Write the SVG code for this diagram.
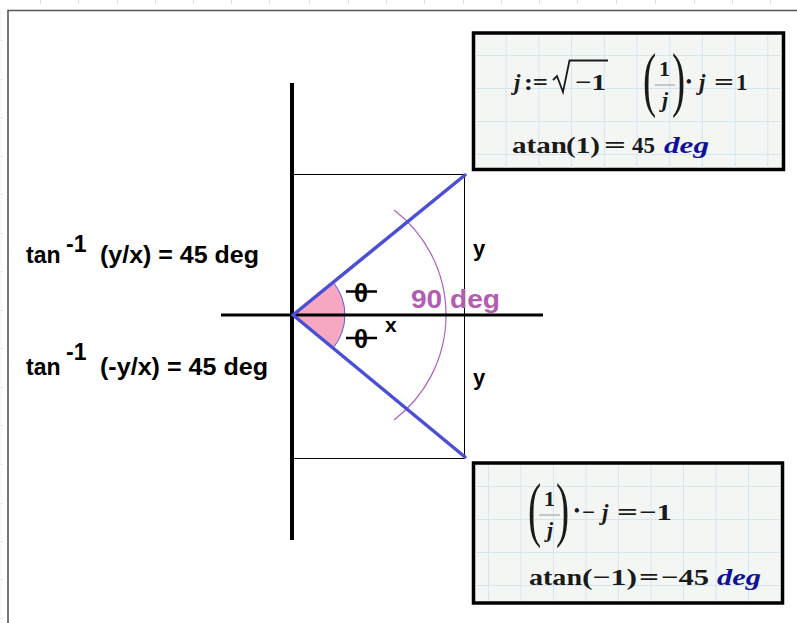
<svg xmlns="http://www.w3.org/2000/svg" width="797" height="623" viewBox="0 0 797 623">
<defs>
<style>
.lbl{font-family:"Liberation Sans",Arial,sans-serif;font-weight:bold;fill:#000}
.m{font-family:"Liberation Serif","Times New Roman",serif;font-weight:bold;font-size:23px;fill:#1a1a1a}
.mi{font-style:italic}
.fr{font-size:22px}
.dot{font-size:16px}
.par{font-family:"Liberation Serif","Times New Roman",serif;font-weight:normal;font-size:66px;fill:#1a1a1a}
.deg{font-family:"Liberation Serif","Times New Roman",serif;font-weight:bold;font-style:italic;font-size:23px;fill:#10109a}
.box{fill:#f3f6f3;stroke:#000;stroke-width:3.5}
.grid{stroke:#d4e6f4;stroke-width:1}
.tick{stroke:#cfe2f5;stroke-width:1}
.axis{stroke:#000;stroke-width:4}
.blue{stroke:#4a4fd6;stroke-width:3.5;fill:none;stroke-linecap:round}
.thin{stroke:#000;stroke-width:1;fill:none}
.bar{stroke:#999;stroke-width:1}
</style>
<pattern id="g1" x="473" y="22" width="32.7" height="33" patternUnits="userSpaceOnUse">
<path d="M0.5,0V33M0,0.5H32.7" class="grid" fill="none"/>
</pattern>
<pattern id="g2" x="488" y="486" width="32.5" height="33" patternUnits="userSpaceOnUse">
<path d="M0.5,0V33M0,0.5H32.5" class="grid" fill="none"/>
</pattern>
</defs>
<rect width="797" height="623" fill="#ffffff"/>
<g id="ruler">
<path class="tick" d="M40.5,0V4M78.5,0V4M117.5,0V4M155.5,0V4M193.5,0V4M231.5,0V4M269.5,0V4M309.5,0V4M348.5,0V4M386.5,0V4M424.5,0V4M463.5,0V4M501.5,0V4M539.5,0V4M577.5,0V4M616.5,0V4M655.5,0V4M694.5,0V4M732.5,0V4M770.5,0V4"/>
<path class="tick" d="M0,40.5H3M0,79.5H3M0,117.5H3M0,156.5H3M0,194.5H3M0,233.5H3M0,271.5H3M0,310.5H3M0,348.5H3M0,387.5H3M0,425.5H3M0,464.5H3M0,503.5H3M0,541.5H3M0,579.5H3M0,618.5H3"/>
<path d="M1,10V623" stroke="#eef4fa" stroke-width="1"/>
</g>
<g id="frame">
<path d="M8,623V10.5H797" fill="none" stroke="#555" stroke-width="1.6"/>
</g>
<g id="construction">
<rect class="thin" x="292.5" y="174.5" width="172" height="284"/>
<path d="M293,315 L333.2,282.1 A52,52 0 0 1 333.2,347.9 Z" fill="#f6a8c2" stroke="#5a5ad8" stroke-width="1"/>
<path d="M394,210 A132,132 0 0 1 394,420" fill="none" stroke="#b060c0" stroke-width="1.2"/>
</g>
<g id="axes">
<line class="axis" x1="292" y1="83" x2="292" y2="540"/>
<line x1="221" y1="315" x2="543" y2="315" stroke="#000" stroke-width="3"/>
</g>
<g id="connectors">
<line class="blue" x1="293" y1="315" x2="465" y2="175"/>
<line class="blue" x1="293" y1="315" x2="465" y2="457"/>
</g>
<g id="labels">
<text class="lbl" x="26" y="263" font-size="23">tan</text>
<text class="lbl" x="66" y="252" font-size="23">-1</text>
<text class="lbl" x="100" y="263" font-size="23" textLength="159" lengthAdjust="spacingAndGlyphs">(y/x) = 45 deg</text>
<text class="lbl" x="26" y="375" font-size="23">tan</text>
<text class="lbl" x="66" y="360" font-size="23">-1</text>
<text class="lbl" x="100" y="375" font-size="23" textLength="168" lengthAdjust="spacingAndGlyphs">(-y/x) = 45 deg</text>
<text class="lbl" x="473" y="256" font-size="22">y</text>
<text class="lbl" x="473" y="385" font-size="22">y</text>
<text class="lbl" x="385" y="332" font-size="21">x</text>
<text class="lbl" x="354" y="302" font-size="26">θ</text>
<line x1="346" y1="291.5" x2="377" y2="291.5" stroke="#000" stroke-width="2.5"/>
<text class="lbl" x="354" y="348" font-size="26">θ</text>
<line x1="346" y1="338" x2="377" y2="338" stroke="#000" stroke-width="2.5"/>
<text x="411" y="308" font-family="'Liberation Sans',Arial,sans-serif" font-weight="bold" font-size="25" fill="#b45cb4" textLength="89" lengthAdjust="spacingAndGlyphs">90 deg</text>
</g>
<g id="box1">
<rect class="box" x="473.5" y="33" width="310" height="136.5"/>
<rect x="475.5" y="35" width="306" height="132.5" fill="url(#g1)"/>
<text class="m mi" x="514" y="90">j</text>
<text class="m" x="524" y="90" textLength="24" lengthAdjust="spacingAndGlyphs">:=</text>
<path d="M553,80 L557,76 L563,92 L569.5,60.5 H608" fill="none" stroke="#1a1a1a" stroke-width="1.8"/>
<text class="m" x="575" y="90" textLength="31" lengthAdjust="spacingAndGlyphs">−1</text>
<text class="par" transform="translate(643,103) scale(0.6,1.08)">(</text>
<text class="m fr" x="659" y="76">1</text>
<line class="bar" x1="655" y1="85" x2="675" y2="85"/>
<text class="m mi fr" x="662" y="107">j</text>
<text class="par" transform="translate(672,103) scale(0.6,1.08)">)</text>
<text class="m dot" x="686" y="87">•</text>
<text class="m mi" x="699" y="90">j</text>
<text class="m" x="714" y="90" textLength="20" lengthAdjust="spacingAndGlyphs">=</text>
<text class="m" x="736" y="90">1</text>
<text class="m" x="512" y="153" textLength="55" lengthAdjust="spacingAndGlyphs">atan</text>
<text class="m" x="566" y="153" textLength="34" lengthAdjust="spacingAndGlyphs">(1)</text>
<text class="m" x="604" y="153" textLength="22" lengthAdjust="spacingAndGlyphs">=</text>
<text class="m" x="632" y="153" textLength="23" lengthAdjust="spacingAndGlyphs">45</text>
<text class="deg" x="664" y="153" textLength="45" lengthAdjust="spacingAndGlyphs">deg</text>
</g>
<g id="box2">
<rect class="box" x="473.5" y="463" width="309" height="140"/>
<rect x="475.5" y="465" width="305" height="136" fill="url(#g2)"/>
<text class="par" transform="translate(528,533) scale(0.6,1.08)">(</text>
<text class="m fr" x="544" y="506">1</text>
<line class="bar" x1="539" y1="515" x2="560" y2="515"/>
<text class="m mi fr" x="547" y="537">j</text>
<text class="par" transform="translate(556,533) scale(0.6,1.08)">)</text>
<text class="m dot" x="574" y="516">•</text>
<text class="m" x="582" y="520">−</text>
<text class="m mi" x="602" y="520">j</text>
<text class="m" x="617" y="520" textLength="21" lengthAdjust="spacingAndGlyphs">=</text>
<text class="m" x="639" y="520" textLength="33" lengthAdjust="spacingAndGlyphs">−1</text>
<text class="m" x="529" y="585" textLength="53" lengthAdjust="spacingAndGlyphs">atan</text>
<text class="m" x="582" y="585" textLength="55" lengthAdjust="spacingAndGlyphs">(−1)</text>
<text class="m" x="639" y="585" textLength="20" lengthAdjust="spacingAndGlyphs">=</text>
<text class="m" x="661" y="585" textLength="48" lengthAdjust="spacingAndGlyphs">−45</text>
<text class="deg" x="717" y="585" textLength="44" lengthAdjust="spacingAndGlyphs">deg</text>
</g>
</svg>
